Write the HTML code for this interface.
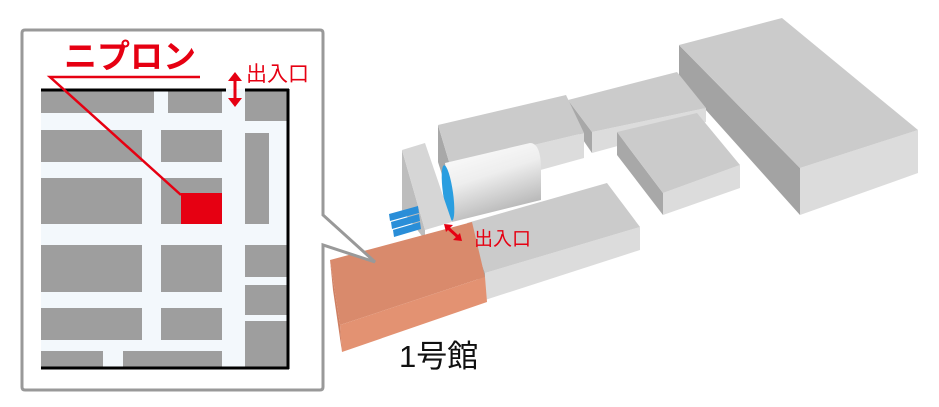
<!DOCTYPE html>
<html><head><meta charset="utf-8"><style>
html,body{margin:0;padding:0;background:#fff;}
svg{display:block;}
text{font-family:"Liberation Sans","Noto Sans CJK JP",sans-serif;}
</style></head><body>
<svg width="939" height="407" viewBox="0 0 939 407" xmlns="http://www.w3.org/2000/svg">
<defs>
<linearGradient id="cyl" x1="0" y1="0" x2="0.4" y2="1">
<stop offset="0" stop-color="#ffffff"/><stop offset="0.5" stop-color="#eeeeee"/><stop offset="1" stop-color="#b5b5b5"/>
</linearGradient>
</defs>
<polygon points="679,45 800,168 800,215 679,80" fill="#a3a3a3"/>
<polygon points="800,168 918,130 918,173 800,215" fill="#dcdcdc"/>
<polygon points="679,45 782,18 918,130 800,168" fill="#cbcbcb"/>
<polygon points="568,100 592,132 592,153 568,118" fill="#a8a8a8"/>
<polygon points="592,132 706,108 706,122 592,153" fill="#dcdcdc"/>
<polygon points="568,100 677,72 706,108 592,132" fill="#cbcbcb"/>
<polygon points="617,132 663,193 663,215 617,155" fill="#a8a8a8"/>
<polygon points="663,193 740,165 740,188 663,215" fill="#dcdcdc"/>
<polygon points="617,132 697,113 740,165 663,193" fill="#cbcbcb"/>
<polygon points="438,125 450,165 450,200 438,162" fill="#a8a8a8"/>
<polygon points="450,165 584,133 584,158 450,195" fill="#dcdcdc"/>
<polygon points="438,125 566,95 584,133 450,165" fill="#cbcbcb"/>
<path d="M445,163 L530,143 Q541,143 541,170 L541,200 L452,222 Z" fill="url(#cyl)"/>
<ellipse cx="448" cy="193" rx="5" ry="28" fill="#2a9ee0" transform="rotate(-8 448 193)"/>
<polygon points="402,150 425,230 425,240 402,210" fill="#bdbdbd"/>
<polygon points="402,150 425,143 452,222 425,230" fill="#d6d6d6"/>
<g fill="#2a8ed8">
<polygon points="389,214 418,206 419,213 390,221"/>
<polygon points="391,222 419,214 420,221 392,229"/>
<polygon points="393,230 420,222 421,229 394,237"/>
</g>
<polygon points="467,223 485,273 485,300 470,255" fill="#a8a8a8"/>
<polygon points="485,273 640,227 640,250 485,300" fill="#dcdcdc"/>
<polygon points="467,223 607,183 640,227 485,273" fill="#cbcbcb"/>
<polygon points="330,260 472,222 485,277 340,325" fill="#d98a6c"/>
<polygon points="340,325 485,277 487,302 342,352" fill="#e39272"/>
<polygon points="330,260 340,325 342,352 333,290" fill="#cf7f62"/>
<line x1="448" y1="228" x2="458" y2="237" stroke="#e60012" stroke-width="3"/>
<polygon points="444,224 453,225 446,232" fill="#e60012"/>
<polygon points="462,241 453,240 460,233" fill="#e60012"/>
<text x="474" y="245" font-size="19" fill="#e60012">出入口</text>
<text x="399" y="367" font-size="31" fill="#111">1号館</text>
<path d="M25,30 L320,30 Q323,30 323,33 L323,215 L375,262 L323,245 L323,387 Q323,390 320,390 L25,390 Q22,390 22,387 L22,33 Q22,30 25,30 Z" fill="#fff" stroke="#999" stroke-width="3"/>
<rect x="41" y="89" width="248" height="279" fill="#f3f8fc"/>
<g fill="#9e9e9e">
<rect x="41" y="89" width="113" height="24"/>
<rect x="168" y="89" width="54" height="24"/>
<rect x="245" y="89" width="43" height="32"/>
<rect x="41" y="130" width="101" height="32"/>
<rect x="161" y="130" width="61" height="32"/>
<rect x="245" y="133" width="24" height="91"/>
<rect x="41" y="178" width="101" height="46"/>
<rect x="161" y="178" width="61" height="46"/>
<rect x="41" y="245" width="101" height="47"/>
<rect x="161" y="245" width="61" height="47"/>
<rect x="245" y="245" width="43" height="32"/>
<rect x="245" y="285" width="43" height="30"/>
<rect x="245" y="321" width="43" height="47"/>
<rect x="41" y="308" width="101" height="32"/>
<rect x="161" y="308" width="61" height="32"/>
<rect x="41" y="351" width="62" height="17"/>
<rect x="123" y="351" width="99" height="17"/>
</g>
<rect x="181" y="193" width="41" height="31" fill="#e60012"/>
<g stroke="#000" stroke-width="3" fill="none">
<line x1="41" y1="90" x2="226" y2="90"/>
<line x1="245" y1="90" x2="289" y2="90"/>
<line x1="288" y1="89" x2="288" y2="369"/>
<line x1="41" y1="368" x2="289" y2="368"/>
</g>
<polyline points="200,77 50,77 181,195" fill="none" stroke="#e60012" stroke-width="2.5"/>
<text x="64" y="68" font-size="33" font-weight="bold" fill="#e60012">ニプロン</text>
<line x1="235" y1="78" x2="235" y2="101" stroke="#e60012" stroke-width="3"/>
<polygon points="228,81 242,81 235,72" fill="#e60012"/>
<polygon points="228,98 242,98 235,107" fill="#e60012"/>
<text x="246" y="81" font-size="21" fill="#e60012">出入口</text>
</svg>
</body></html>
